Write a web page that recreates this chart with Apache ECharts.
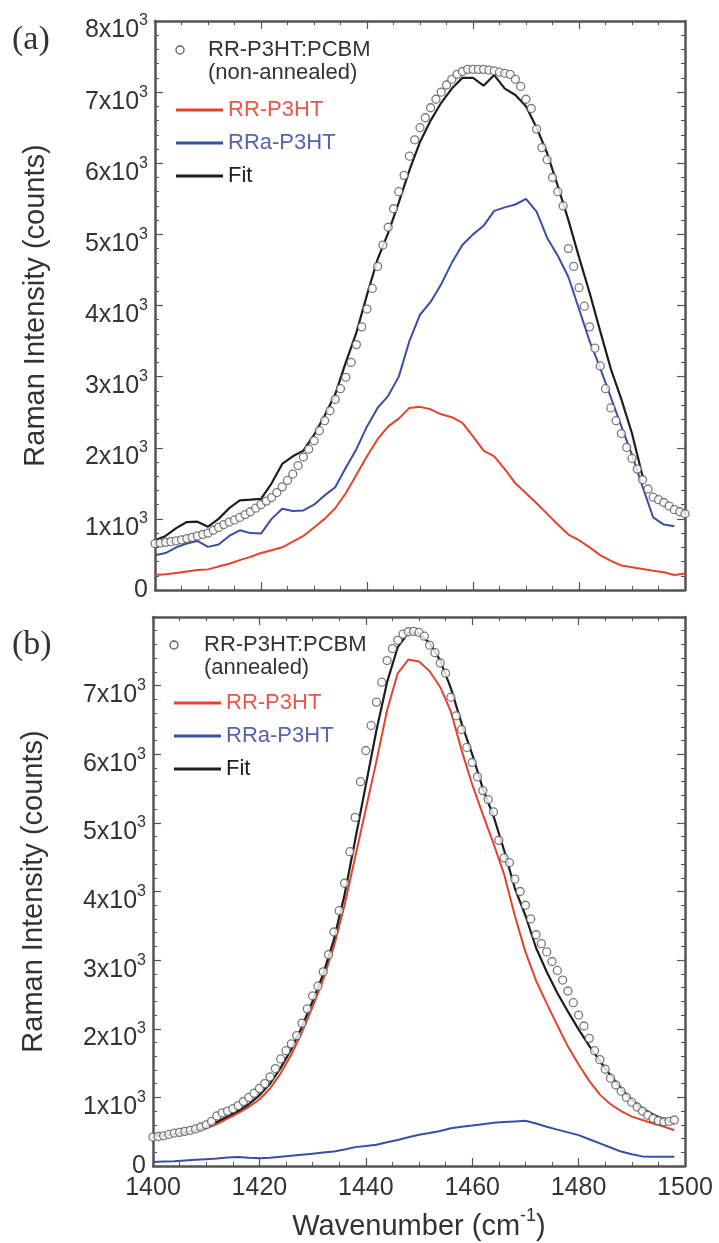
<!DOCTYPE html>
<html><head><meta charset="utf-8">
<script src="https://cdn.jsdelivr.net/npm/echarts@6/dist/echarts.min.js"></script>
<style>html,body{margin:0;padding:0;background:#fff}#c{width:719px;height:1243px}</style>
</head><body><div id="c"></div>
<script>
// ---- x positions (wavenumber, cm^-1) ----
const wn2 = [1400,1402,1404,1406,1408,1410,1412,1414,1416,1418,1420,1422,1424,1426,1428,1430,1432,1434,1436,1438,1440,1442,1444,1446,1448,1450,1452,1454,1456,1458,1460,1462,1464,1466,1468,1470,1472,1474,1476,1478,1480,1482,1484,1486,1488,1490,1492,1494,1496,1498,1500];
const wn1 = [1400,1401,1402,1403,1404,1405,1406,1407,1408,1409,1410,1411,1412,1413,1414,1415,1416,1417,1418,1419,1420,1421,1422,1423,1424,1425,1426,1427,1428,1429,1430,1431,1432,1433,1434,1435,1436,1437,1438,1439,1440,1441,1442,1443,1444,1445,1446,1447,1448,1449,1450,1451,1452,1453,1454,1455,1456,1457,1458,1459,1460,1461,1462,1463,1464,1465,1466,1467,1468,1469,1470,1471,1472,1473,1474,1475,1476,1477,1478,1479,1480,1481,1482,1483,1484,1485,1486,1487,1488,1489,1490,1491,1492,1493,1494,1495,1496,1497,1498,1499,1500];

// ---- panel (a): non-annealed ----
const aRR  = [210,220,240,260,280,290,330,370,420,466,520,560,600,680,760,880,1000,1150,1360,1620,1880,2120,2300,2410,2560,2575,2540,2470,2430,2350,2160,1960,1880,1700,1500,1360,1220,1070,920,780,700,600,490,410,345,320,295,270,250,210,233];
const aRRa = [490,520,600,653,690,606,640,760,839,800,793,1000,1142,1110,1119,1200,1330,1445,1720,1980,2300,2560,2730,3000,3500,3870,4050,4300,4600,4850,5000,5120,5330,5380,5420,5500,5320,4950,4700,4400,3950,3500,3120,2710,2300,1900,1450,1020,920,895,null];
const aFit = [700,760,870,955,960,890,1000,1150,1259,1270,1282,1500,1772,1880,1960,2180,2450,2751,3200,3620,4150,4650,5020,5450,5900,6300,6600,6850,7050,7200,7200,7090,7240,7050,6960,6800,6500,6140,5680,5200,4680,4180,3640,3110,2680,2200,1600,null,null,null,null];
const aData = [653,660,670,680,690,705,723,740,760,780,800,840,880,920,955,985,1020,1060,1100,1150,1200,1250,1300,1370,1450,1540,1630,1750,1870,1980,2100,2240,2380,2520,2680,2830,2990,3200,3450,3700,3950,4240,4550,4850,5100,5360,5600,5830,6100,6330,6500,6640,6780,6900,7000,7100,7180,7250,7290,7320,7320,7320,7320,7310,7300,7280,7265,7250,7180,7080,6900,6770,6480,6220,6050,5800,5600,5400,4800,4550,4250,3990,3700,3400,3150,2830,2560,2380,2200,2005,1850,1700,1550,1420,1305,1270,1230,1180,1130,1100,1072];

// ---- panel (b): annealed ----
const bRR  = [430,440,460,480,510,550,610,690,770,860,970,1130,1350,1620,1950,2320,2720,3200,3800,4500,5200,5900,6640,7180,7380,7350,7210,6977,6620,6060,5560,5120,4700,4250,3650,3120,2700,2370,2050,1740,1480,1240,1040,900,800,720,670,620,575,520,null];
const bRRa = [60,65,70,80,90,100,110,125,130,120,112,120,135,150,165,180,195,210,240,275,290,310,345,380,420,455,480,510,550,572,590,610,630,640,650,660,620,572,530,490,450,390,330,270,210,170,140,136,136,136,null];
const bFit = [440,450,470,490,520,560,640,720,800,900,1030,1200,1430,1700,2030,2400,2800,3300,3950,4750,5550,6350,7050,7560,7770,7760,7620,7365,6960,6450,6000,5500,5100,4600,4050,3650,3180,2830,2520,2250,1990,1750,1530,1320,1130,960,840,750,680,620,null];
const bData = [422,430,440,460,480,490,505,520,540,568,600,650,730,775,800,835,880,940,1000,1060,1130,1200,1300,1420,1560,1680,1780,1900,2080,2290,2480,2620,2830,3080,3410,3720,4120,4580,5080,5600,6055,6420,6760,7050,7365,7540,7660,7750,7785,7790,7775,7720,7590,7480,7330,7180,6830,6560,6360,6100,5880,5670,5470,5340,5160,4745,4490,4420,4180,4000,3800,3600,3370,3240,3120,2980,2850,2710,2550,2380,2200,2040,1860,1680,1550,1410,1280,1180,1090,1000,930,860,800,740,694,660,645,650,670,null,null];

// ---- labels ----
const seriesNames = ['RR-P3HT', 'RRa-P3HT', 'Fit'];
const dataName = 'RR-P3HT:PCBM';
const panelNotes = ['(non-annealed)', '(annealed)'];
const panelTags = ['(a)', '(b)'];
const yTitle = 'Raman Intensity (counts)';

const FONT = "'Liberation Sans', Arial, sans-serif";
const TXT = '#333';
const FRAME = '#555';
const RED = '#e5432d', BLUE = '#3b4ea6', BLACK = '#1e1e1e', CIRC = '#5a5a5a';
const RED_T = '#e8584a', BLUE_T = '#5563b0';

function pairs(xs, ys) { return xs.map((x, i) => [x, ys[i]]).filter(p => p[1] != null); }

const tickLine = { show: true, inside: true, length: 8, lineStyle: { color: FRAME, width: 1.2 } };
const lineFrame = { show: true, onZero: false, lineStyle: { color: FRAME, width: 2.5 } };

function xAx(grid, pos, labels) {
  const ax = {
    type: 'value', gridIndex: grid, position: pos, min: 1400, max: 1500, interval: 20,
    axisLine: lineFrame, axisTick: tickLine,
    minorTick: { show: true, splitNumber: 4, length: 4, lineStyle: { color: FRAME, width: 1 } },
    splitLine: { show: false }, minorSplitLine: { show: false },
    axisLabel: { show: labels, fontSize: 25, fontFamily: FONT, color: TXT, margin: 10, formatter: v => String(v) }
  };
  if (labels) {
    ax.name = '{n|Wavenumber (cm}{s|-1}{n|)}';
    ax.nameLocation = 'middle';
    ax.nameGap = 41;
    ax.nameTextStyle = { rich: {
      n: { fontSize: 29, fontFamily: FONT, color: TXT, lineHeight: 34, verticalAlign: 'bottom' },
      s: { fontSize: 18, fontFamily: FONT, color: TXT, lineHeight: 20, verticalAlign: 'top' } } };
  }
  return ax;
}
function yAx(grid, pos, labels, hideTop) {
  const ax = {
    type: 'value', gridIndex: grid, position: pos, min: 0, max: 8000, interval: 1000,
    axisLine: lineFrame, axisTick: tickLine,
    minorTick: { show: true, splitNumber: 5, length: 4, lineStyle: { color: FRAME, width: 1 } },
    splitLine: { show: false }, minorSplitLine: { show: false },
    axisLabel: {
      show: labels, fontSize: 25, fontFamily: FONT, color: TXT, margin: 7,
      formatter: v => (v === 0 ? '0' : (hideTop && v === 8000 ? '' : '{b|' + (v / 1000) + 'x10}{s|3}')),
      rich: {
        b: { fontSize: 25, fontFamily: FONT, color: TXT, lineHeight: 25, verticalAlign: 'bottom' },
        s: { fontSize: 16, fontFamily: FONT, color: TXT, lineHeight: 44 }
      }
    }
  };
  if (labels) {
    ax.name = yTitle; ax.nameLocation = 'middle'; ax.nameGap = 105;
    ax.nameTextStyle = { fontSize: 29, fontFamily: FONT, color: TXT };
  }
  return ax;
}

function panelSeries(g, rr, rra, fit, dat) {
  const base = { type: 'line', xAxisIndex: 2 * g, yAxisIndex: 2 * g, symbol: 'none', showSymbol: false, animation: false };
  return [
    Object.assign({}, base, { name: seriesNames[0], data: pairs(wn2, rr), lineStyle: { color: RED, width: 2 }, itemStyle: { color: RED }, z: 2 }),
    Object.assign({}, base, { name: seriesNames[1], data: pairs(wn2, rra), lineStyle: { color: BLUE, width: 2 }, itemStyle: { color: BLUE }, z: 2 }),
    Object.assign({}, base, { name: seriesNames[2], data: pairs(wn2, fit), lineStyle: { color: BLACK, width: 2.2 }, itemStyle: { color: BLACK }, z: 2 }),
    { type: 'scatter', name: dataName, xAxisIndex: 2 * g, yAxisIndex: 2 * g, data: pairs(wn1, dat),
      symbol: 'circle', symbolSize: 8, itemStyle: { color: '#fff', borderColor: CIRC, borderWidth: 1.3 }, z: 3, animation: false }
  ];
}

function legendFor(left, top) {
  return {
    left: left, top: top, orient: 'vertical', itemWidth: 47, itemHeight: 3, itemGap: 11,
    icon: 'rect', selectedMode: false, padding: 0,
    textStyle: { fontSize: 22, fontFamily: FONT },
    data: [
      { name: seriesNames[0], textStyle: { color: RED_T } },
      { name: seriesNames[1], textStyle: { color: BLUE_T } },
      { name: seriesNames[2], textStyle: { color: '#222' } }
    ]
  };
}

function dataLegend(cx, cy, tx, note) {
  return [
    { type: 'circle', shape: { cx: cx, cy: cy, r: 4 }, style: { fill: '#fff', stroke: CIRC, lineWidth: 1.3 } },
    { type: 'text', x: tx, y: cy, style: { text: dataName, fontSize: 22, fontFamily: FONT, fill: TXT, verticalAlign: 'middle' } },
    { type: 'text', x: tx, y: cy + 23, style: { text: note, fontSize: 22, fontFamily: FONT, fill: TXT, verticalAlign: 'middle' } }
  ];
}

const option = {
  backgroundColor: '#fff',
  animation: false,
  title: [
    { text: panelTags[0], left: 7, top: 18, padding: 5, textStyle: { fontFamily: "'Liberation Serif', 'Times New Roman', serif", fontSize: 34, fontWeight: 'normal', color: TXT } },
    { text: panelTags[1], left: 7, top: 623, padding: 5, textStyle: { fontFamily: "'Liberation Serif', 'Times New Roman', serif", fontSize: 34, fontWeight: 'normal', color: TXT } }
  ],
  grid: [
    { left: 155, top: 21, right: 34, height: 569 },
    { left: 153, top: 617, right: 34, height: 549 }
  ],
  xAxis: [xAx(0, 'bottom', false), xAx(0, 'top', false), xAx(1, 'bottom', true), xAx(1, 'top', false)],
  yAxis: [yAx(0, 'left', true, false), yAx(0, 'right', false, false), yAx(1, 'left', true, true), yAx(1, 'right', false, false)],
  legend: [legendFor(176, 99), legendFor(174, 692)],
  graphic: [].concat(dataLegend(180, 50, 208, panelNotes[0]), dataLegend(174, 645, 204, panelNotes[1])),
  series: [].concat(panelSeries(0, aRR, aRRa, aFit, aData), panelSeries(1, bRR, bRRa, bFit, bData))
};

const chart = echarts.init(document.getElementById('c'), null, { renderer: 'canvas' });
chart.setOption(option);
</script>
</body></html>
